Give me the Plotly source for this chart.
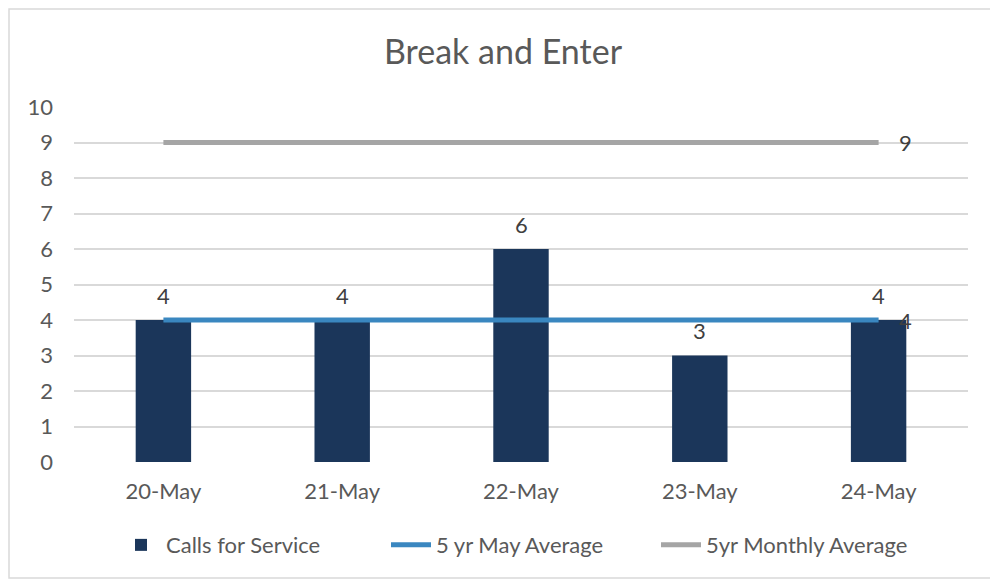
import plotly.graph_objects as go

categories = ["20-May", "21-May", "22-May", "23-May", "24-May"]
calls_for_service = [4, 4, 6, 3, 4]
may_average = [4, 4, 4, 4, 4]
monthly_average = [9, 9, 9, 9, 9]
y_ticks = [0, 1, 2, 3, 4, 5, 6, 7, 8, 9, 10]

FONT = "Lato, 'Open Sans', sans-serif"
TXT = "#595959"
LBL = "#404040"
FS = 22

fig = go.Figure()
fig.add_trace(go.Bar(
    x=categories, y=calls_for_service, name="Calls for Service",
    marker=dict(color="#1B365A", line=dict(width=0)),
    width=0.31,
))
fig.add_trace(go.Scatter(
    x=categories, y=may_average, name="5 yr May Average", mode="lines",
    line=dict(color="#3A87C0", width=5),
))
fig.add_trace(go.Scatter(
    x=categories, y=monthly_average, name="5yr Monthly Average", mode="lines",
    line=dict(color="#A5A5A5", width=5),
))

annotations = []
for c, v in zip(categories, calls_for_service):
    annotations.append(dict(x=c, y=v, text=str(v), showarrow=False, xref="x", yref="y",
                            yshift=25, font=dict(size=FS, color=LBL, family=FONT)))
for series in (may_average, monthly_average):
    annotations.append(dict(x=categories[-1], y=series[-1], text=str(series[-1]),
                            showarrow=False, xref="x", yref="y", xshift=27,
                            font=dict(size=FS, color=LBL, family=FONT)))

fig.update_layout(
    width=990, height=574,
    margin=dict(l=66, r=30, t=99, b=120, autoexpand=False),
    paper_bgcolor="white", plot_bgcolor="white",
    font=dict(family=FONT, color=TXT, size=FS),
    title=dict(text="Break and Enter", x=0.5, xanchor="center", y=0.923, yanchor="middle",
               font=dict(size=34, color=TXT, family=FONT)),
    showlegend=True,
    legend=dict(orientation="h", x=0.5, xanchor="center", y=-0.234, yanchor="middle",
                font=dict(size=FS, color=TXT, family=FONT), itemwidth=40,
                traceorder="normal", entrywidth=215),
    hovermode=False,
    bargap=0.69,
    annotations=annotations,
    xaxis=dict(type="category", showgrid=False, showline=False, ticks="", automargin=False,
               tickfont=dict(size=FS, color=TXT), ticklabelstandoff=14),
    yaxis=dict(range=[0, 10], tickvals=y_ticks, showgrid=True, gridcolor="#D9D9D9",
               gridwidth=1.5, zeroline=False, showline=False, ticks="", automargin=False,
               tickfont=dict(size=FS, color=TXT), ticklabelstandoff=20),
    shapes=[dict(type="rect", xref="paper", yref="paper",
                 x0=-0.0727, x1=1.0302, y0=-0.327, y1=1.276,
                 line=dict(color="#D9D9D9", width=1.5), fillcolor="rgba(0,0,0,0)")],
)

fig.write_html("out.html")
